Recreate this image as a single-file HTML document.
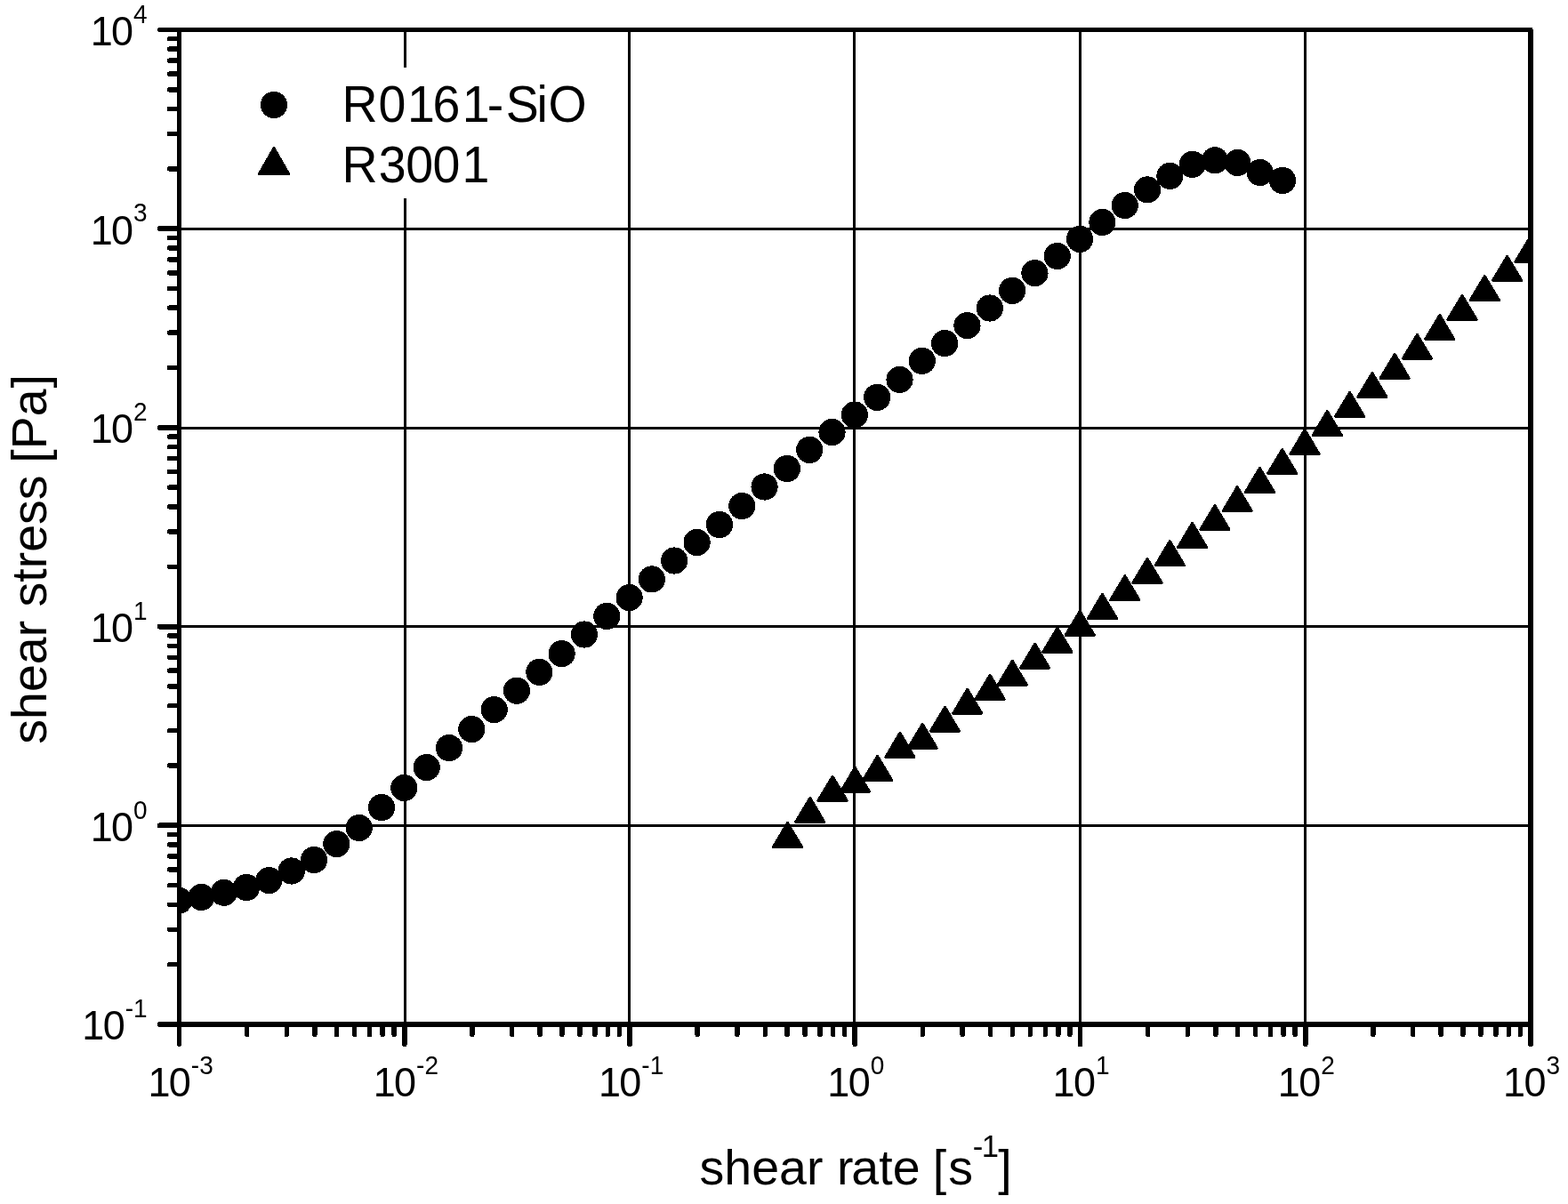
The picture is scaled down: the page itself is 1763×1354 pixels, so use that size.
<!DOCTYPE html>
<html lang="en"><head><meta charset="utf-8"><title>shear stress vs shear rate</title>
<style>html,body{margin:0;padding:0;background:#fff}body{width:1763px;height:1354px;overflow:hidden}svg{display:block}text{font-family:"Liberation Sans",Arial,Helvetica,sans-serif;fill:#000}</style>
</head><body>
<svg width="1763" height="1354" viewBox="0 0 1763 1354">
<rect x="0" y="0" width="1763" height="1354" fill="#fff"/>
<g fill="#000" shape-rendering="crispEdges">
<rect x="454" y="33" width="3" height="1119"/>
<rect x="706" y="33" width="3" height="1119"/>
<rect x="959" y="33" width="3" height="1119"/>
<rect x="1213" y="33" width="3" height="1119"/>
<rect x="1466" y="33" width="3" height="1119"/>
<rect x="201" y="256" width="1520" height="3"/>
<rect x="201" y="480" width="1520" height="3"/>
<rect x="201" y="703" width="1520" height="3"/>
<rect x="201" y="927" width="1520" height="3"/>
</g>
<rect x="270" y="76" width="410" height="147" fill="#fff"/>
<defs><clipPath id="plotclip"><rect x="201.5" y="33.5" width="1519.5" height="1118.5"/></clipPath></defs>
<g clip-path="url(#plotclip)" fill="#000" shape-rendering="crispEdges">
<circle cx="201.10" cy="1012.80" r="15.1"/>
<circle cx="226.42" cy="1009.00" r="15.1"/>
<circle cx="251.75" cy="1003.90" r="15.1"/>
<circle cx="277.08" cy="998.00" r="15.1"/>
<circle cx="302.40" cy="990.10" r="15.1"/>
<circle cx="327.73" cy="979.50" r="15.1"/>
<circle cx="353.05" cy="967.00" r="15.1"/>
<circle cx="378.38" cy="949.10" r="15.1"/>
<circle cx="403.70" cy="931.00" r="15.1"/>
<circle cx="429.02" cy="908.05" r="15.1"/>
<circle cx="454.35" cy="886.00" r="15.1"/>
<circle cx="479.68" cy="863.06" r="15.1"/>
<circle cx="505.00" cy="841.10" r="15.1"/>
<circle cx="530.32" cy="820.06" r="15.1"/>
<circle cx="555.65" cy="798.10" r="15.1"/>
<circle cx="580.98" cy="776.70" r="15.1"/>
<circle cx="606.30" cy="755.90" r="15.1"/>
<circle cx="631.62" cy="735.10" r="15.1"/>
<circle cx="656.95" cy="713.50" r="15.1"/>
<circle cx="682.27" cy="692.95" r="15.1"/>
<circle cx="707.60" cy="672.05" r="15.1"/>
<circle cx="732.92" cy="651.40" r="15.1"/>
<circle cx="758.25" cy="630.50" r="15.1"/>
<circle cx="783.58" cy="610.00" r="15.1"/>
<circle cx="808.90" cy="590.00" r="15.1"/>
<circle cx="834.23" cy="569.06" r="15.1"/>
<circle cx="859.55" cy="547.50" r="15.1"/>
<circle cx="884.88" cy="527.00" r="15.1"/>
<circle cx="910.20" cy="505.90" r="15.1"/>
<circle cx="935.52" cy="486.00" r="15.1"/>
<circle cx="960.85" cy="466.50" r="15.1"/>
<circle cx="986.17" cy="446.90" r="15.1"/>
<circle cx="1011.50" cy="426.90" r="15.1"/>
<circle cx="1036.82" cy="405.90" r="15.1"/>
<circle cx="1062.15" cy="386.07" r="15.1"/>
<circle cx="1087.47" cy="366.10" r="15.1"/>
<circle cx="1112.80" cy="346.50" r="15.1"/>
<circle cx="1138.12" cy="326.90" r="15.1"/>
<circle cx="1163.45" cy="307.10" r="15.1"/>
<circle cx="1188.77" cy="288.00" r="15.1"/>
<circle cx="1214.10" cy="268.90" r="15.1"/>
<circle cx="1239.42" cy="250.00" r="15.1"/>
<circle cx="1264.75" cy="231.00" r="15.1"/>
<circle cx="1290.07" cy="213.40" r="15.1"/>
<circle cx="1315.40" cy="197.90" r="15.1"/>
<circle cx="1340.72" cy="184.90" r="15.1"/>
<circle cx="1366.05" cy="180.30" r="15.1"/>
<circle cx="1391.37" cy="183.00" r="15.1"/>
<circle cx="1416.70" cy="194.00" r="15.1"/>
<circle cx="1442.02" cy="203.00" r="15.1"/>
<path d="M869.40 952.40L901.60 952.40L885.50 925.40Z" stroke="#000" stroke-width="3.0" stroke-linejoin="round"/>
<path d="M894.68 924.40L926.88 924.40L910.78 897.40Z" stroke="#000" stroke-width="3.0" stroke-linejoin="round"/>
<path d="M919.97 900.20L952.17 900.20L936.07 873.20Z" stroke="#000" stroke-width="3.0" stroke-linejoin="round"/>
<path d="M945.25 890.30L977.45 890.30L961.35 863.30Z" stroke="#000" stroke-width="3.0" stroke-linejoin="round"/>
<path d="M970.54 877.30L1002.74 877.30L986.64 850.30Z" stroke="#000" stroke-width="3.0" stroke-linejoin="round"/>
<path d="M995.82 851.30L1028.02 851.30L1011.92 824.30Z" stroke="#000" stroke-width="3.0" stroke-linejoin="round"/>
<path d="M1021.10 841.40L1053.30 841.40L1037.20 814.40Z" stroke="#000" stroke-width="3.0" stroke-linejoin="round"/>
<path d="M1046.39 822.30L1078.59 822.30L1062.49 795.30Z" stroke="#000" stroke-width="3.0" stroke-linejoin="round"/>
<path d="M1071.67 802.20L1103.87 802.20L1087.77 775.20Z" stroke="#000" stroke-width="3.0" stroke-linejoin="round"/>
<path d="M1096.96 786.20L1129.16 786.20L1113.06 759.20Z" stroke="#000" stroke-width="3.0" stroke-linejoin="round"/>
<path d="M1122.24 770.20L1154.44 770.20L1138.34 743.20Z" stroke="#000" stroke-width="3.0" stroke-linejoin="round"/>
<path d="M1147.52 751.20L1179.72 751.20L1163.62 724.20Z" stroke="#000" stroke-width="3.0" stroke-linejoin="round"/>
<path d="M1172.81 733.20L1205.01 733.20L1188.91 706.20Z" stroke="#000" stroke-width="3.0" stroke-linejoin="round"/>
<path d="M1198.09 714.35L1230.29 714.35L1214.19 687.35Z" stroke="#000" stroke-width="3.0" stroke-linejoin="round"/>
<path d="M1223.38 695.40L1255.58 695.40L1239.48 668.40Z" stroke="#000" stroke-width="3.0" stroke-linejoin="round"/>
<path d="M1248.66 674.70L1280.86 674.70L1264.76 647.70Z" stroke="#000" stroke-width="3.0" stroke-linejoin="round"/>
<path d="M1273.94 655.40L1306.14 655.40L1290.04 628.40Z" stroke="#000" stroke-width="3.0" stroke-linejoin="round"/>
<path d="M1299.23 635.60L1331.43 635.60L1315.33 608.60Z" stroke="#000" stroke-width="3.0" stroke-linejoin="round"/>
<path d="M1324.51 615.50L1356.71 615.50L1340.61 588.50Z" stroke="#000" stroke-width="3.0" stroke-linejoin="round"/>
<path d="M1349.80 595.50L1382.00 595.50L1365.90 568.50Z" stroke="#000" stroke-width="3.0" stroke-linejoin="round"/>
<path d="M1375.08 574.60L1407.28 574.60L1391.18 547.60Z" stroke="#000" stroke-width="3.0" stroke-linejoin="round"/>
<path d="M1400.36 553.40L1432.56 553.40L1416.46 526.40Z" stroke="#000" stroke-width="3.0" stroke-linejoin="round"/>
<path d="M1425.65 532.50L1457.85 532.50L1441.75 505.50Z" stroke="#000" stroke-width="3.0" stroke-linejoin="round"/>
<path d="M1450.93 510.50L1483.13 510.50L1467.03 483.50Z" stroke="#000" stroke-width="3.0" stroke-linejoin="round"/>
<path d="M1476.22 489.40L1508.42 489.40L1492.32 462.40Z" stroke="#000" stroke-width="3.0" stroke-linejoin="round"/>
<path d="M1501.50 468.40L1533.70 468.40L1517.60 441.40Z" stroke="#000" stroke-width="3.0" stroke-linejoin="round"/>
<path d="M1526.78 446.50L1558.98 446.50L1542.88 419.50Z" stroke="#000" stroke-width="3.0" stroke-linejoin="round"/>
<path d="M1552.07 425.40L1584.27 425.40L1568.17 398.40Z" stroke="#000" stroke-width="3.0" stroke-linejoin="round"/>
<path d="M1577.35 403.30L1609.55 403.30L1593.45 376.30Z" stroke="#000" stroke-width="3.0" stroke-linejoin="round"/>
<path d="M1602.64 381.40L1634.84 381.40L1618.74 354.40Z" stroke="#000" stroke-width="3.0" stroke-linejoin="round"/>
<path d="M1627.92 359.40L1660.12 359.40L1644.02 332.40Z" stroke="#000" stroke-width="3.0" stroke-linejoin="round"/>
<path d="M1653.20 337.50L1685.40 337.50L1669.30 310.50Z" stroke="#000" stroke-width="3.0" stroke-linejoin="round"/>
<path d="M1678.49 315.40L1710.69 315.40L1694.59 288.40Z" stroke="#000" stroke-width="3.0" stroke-linejoin="round"/>
<path d="M1703.77 294.60L1735.97 294.60L1719.87 267.60Z" stroke="#000" stroke-width="3.0" stroke-linejoin="round"/>
</g>
<g fill="#000" shape-rendering="crispEdges">
<rect x="199" y="31" width="5" height="1124"/>
<rect x="199" y="31" width="1524" height="5"/>
<rect x="199" y="1149" width="1525" height="6"/>
<rect x="1718" y="33" width="6" height="1122"/>
</g>
<g fill="#000" shape-rendering="crispEdges">
<rect x="177" y="1149.10" width="25" height="5.8" rx="2.2"/>
<rect x="188" y="1081.91" width="14" height="5.5" rx="2.2"/>
<rect x="188" y="1042.52" width="14" height="5.5" rx="2.2"/>
<rect x="188" y="1014.57" width="14" height="5.5" rx="2.2"/>
<rect x="188" y="992.89" width="14" height="5.5" rx="2.2"/>
<rect x="188" y="975.18" width="14" height="5.5" rx="2.2"/>
<rect x="188" y="960.20" width="14" height="5.5" rx="2.2"/>
<rect x="188" y="947.23" width="14" height="5.5" rx="2.2"/>
<rect x="188" y="935.79" width="14" height="5.5" rx="2.2"/>
<rect x="177" y="925.40" width="25" height="5.8" rx="2.2"/>
<rect x="188" y="858.21" width="14" height="5.5" rx="2.2"/>
<rect x="188" y="818.82" width="14" height="5.5" rx="2.2"/>
<rect x="188" y="790.87" width="14" height="5.5" rx="2.2"/>
<rect x="188" y="769.19" width="14" height="5.5" rx="2.2"/>
<rect x="188" y="751.48" width="14" height="5.5" rx="2.2"/>
<rect x="188" y="736.50" width="14" height="5.5" rx="2.2"/>
<rect x="188" y="723.53" width="14" height="5.5" rx="2.2"/>
<rect x="188" y="712.09" width="14" height="5.5" rx="2.2"/>
<rect x="177" y="701.70" width="25" height="5.8" rx="2.2"/>
<rect x="188" y="634.51" width="14" height="5.5" rx="2.2"/>
<rect x="188" y="595.12" width="14" height="5.5" rx="2.2"/>
<rect x="188" y="567.17" width="14" height="5.5" rx="2.2"/>
<rect x="188" y="545.49" width="14" height="5.5" rx="2.2"/>
<rect x="188" y="527.78" width="14" height="5.5" rx="2.2"/>
<rect x="188" y="512.80" width="14" height="5.5" rx="2.2"/>
<rect x="188" y="499.83" width="14" height="5.5" rx="2.2"/>
<rect x="188" y="488.39" width="14" height="5.5" rx="2.2"/>
<rect x="177" y="478.00" width="25" height="5.8" rx="2.2"/>
<rect x="188" y="410.81" width="14" height="5.5" rx="2.2"/>
<rect x="188" y="371.42" width="14" height="5.5" rx="2.2"/>
<rect x="188" y="343.47" width="14" height="5.5" rx="2.2"/>
<rect x="188" y="321.79" width="14" height="5.5" rx="2.2"/>
<rect x="188" y="304.08" width="14" height="5.5" rx="2.2"/>
<rect x="188" y="289.10" width="14" height="5.5" rx="2.2"/>
<rect x="188" y="276.13" width="14" height="5.5" rx="2.2"/>
<rect x="188" y="264.69" width="14" height="5.5" rx="2.2"/>
<rect x="177" y="254.30" width="25" height="5.8" rx="2.2"/>
<rect x="188" y="187.11" width="14" height="5.5" rx="2.2"/>
<rect x="188" y="147.72" width="14" height="5.5" rx="2.2"/>
<rect x="188" y="119.77" width="14" height="5.5" rx="2.2"/>
<rect x="188" y="98.09" width="14" height="5.5" rx="2.2"/>
<rect x="188" y="80.38" width="14" height="5.5" rx="2.2"/>
<rect x="188" y="65.40" width="14" height="5.5" rx="2.2"/>
<rect x="188" y="52.43" width="14" height="5.5" rx="2.2"/>
<rect x="188" y="40.99" width="14" height="5.5" rx="2.2"/>
<rect x="177" y="31" width="25" height="5" rx="2.2"/>
<rect x="199" y="1150" width="5" height="27" rx="2.2"/>
<rect x="274.99" y="1150" width="5.5" height="16" rx="2.2"/>
<rect x="319.58" y="1150" width="5.5" height="16" rx="2.2"/>
<rect x="351.22" y="1150" width="5.5" height="16" rx="2.2"/>
<rect x="375.76" y="1150" width="5.5" height="16" rx="2.2"/>
<rect x="395.82" y="1150" width="5.5" height="16" rx="2.2"/>
<rect x="412.77" y="1150" width="5.5" height="16" rx="2.2"/>
<rect x="427.46" y="1150" width="5.5" height="16" rx="2.2"/>
<rect x="440.41" y="1150" width="5.5" height="16" rx="2.2"/>
<rect x="451.85" y="1150" width="5.8" height="27" rx="2.2"/>
<rect x="528.24" y="1150" width="5.5" height="16" rx="2.2"/>
<rect x="572.83" y="1150" width="5.5" height="16" rx="2.2"/>
<rect x="604.47" y="1150" width="5.5" height="16" rx="2.2"/>
<rect x="629.01" y="1150" width="5.5" height="16" rx="2.2"/>
<rect x="649.07" y="1150" width="5.5" height="16" rx="2.2"/>
<rect x="666.02" y="1150" width="5.5" height="16" rx="2.2"/>
<rect x="680.71" y="1150" width="5.5" height="16" rx="2.2"/>
<rect x="693.66" y="1150" width="5.5" height="16" rx="2.2"/>
<rect x="705.10" y="1150" width="5.8" height="27" rx="2.2"/>
<rect x="781.49" y="1150" width="5.5" height="16" rx="2.2"/>
<rect x="826.08" y="1150" width="5.5" height="16" rx="2.2"/>
<rect x="857.72" y="1150" width="5.5" height="16" rx="2.2"/>
<rect x="882.26" y="1150" width="5.5" height="16" rx="2.2"/>
<rect x="902.32" y="1150" width="5.5" height="16" rx="2.2"/>
<rect x="919.27" y="1150" width="5.5" height="16" rx="2.2"/>
<rect x="933.96" y="1150" width="5.5" height="16" rx="2.2"/>
<rect x="946.91" y="1150" width="5.5" height="16" rx="2.2"/>
<rect x="958.35" y="1150" width="5.8" height="27" rx="2.2"/>
<rect x="1034.74" y="1150" width="5.5" height="16" rx="2.2"/>
<rect x="1079.33" y="1150" width="5.5" height="16" rx="2.2"/>
<rect x="1110.97" y="1150" width="5.5" height="16" rx="2.2"/>
<rect x="1135.51" y="1150" width="5.5" height="16" rx="2.2"/>
<rect x="1155.57" y="1150" width="5.5" height="16" rx="2.2"/>
<rect x="1172.52" y="1150" width="5.5" height="16" rx="2.2"/>
<rect x="1187.21" y="1150" width="5.5" height="16" rx="2.2"/>
<rect x="1200.16" y="1150" width="5.5" height="16" rx="2.2"/>
<rect x="1211.60" y="1150" width="5.8" height="27" rx="2.2"/>
<rect x="1287.99" y="1150" width="5.5" height="16" rx="2.2"/>
<rect x="1332.58" y="1150" width="5.5" height="16" rx="2.2"/>
<rect x="1364.22" y="1150" width="5.5" height="16" rx="2.2"/>
<rect x="1388.76" y="1150" width="5.5" height="16" rx="2.2"/>
<rect x="1408.82" y="1150" width="5.5" height="16" rx="2.2"/>
<rect x="1425.77" y="1150" width="5.5" height="16" rx="2.2"/>
<rect x="1440.46" y="1150" width="5.5" height="16" rx="2.2"/>
<rect x="1453.41" y="1150" width="5.5" height="16" rx="2.2"/>
<rect x="1464.85" y="1150" width="5.8" height="27" rx="2.2"/>
<rect x="1541.24" y="1150" width="5.5" height="16" rx="2.2"/>
<rect x="1585.83" y="1150" width="5.5" height="16" rx="2.2"/>
<rect x="1617.47" y="1150" width="5.5" height="16" rx="2.2"/>
<rect x="1642.01" y="1150" width="5.5" height="16" rx="2.2"/>
<rect x="1662.07" y="1150" width="5.5" height="16" rx="2.2"/>
<rect x="1679.02" y="1150" width="5.5" height="16" rx="2.2"/>
<rect x="1693.71" y="1150" width="5.5" height="16" rx="2.2"/>
<rect x="1706.66" y="1150" width="5.5" height="16" rx="2.2"/>
<rect x="1718.10" y="1150" width="5.8" height="27" rx="2.2"/>
</g>
<text transform="translate(164.82 1233.00) scale(1 1.0320)" font-size="45.00" x="1.60 25.03">10<tspan x="50.05" font-size="28.00" dy="-24.30">-3</tspan></text>
<text transform="translate(418.07 1233.00) scale(1 1.0320)" font-size="45.00" x="1.60 25.03">10<tspan x="50.05" font-size="28.00" dy="-24.30">-2</tspan></text>
<text transform="translate(671.32 1233.00) scale(1 1.0320)" font-size="45.00" x="1.60 25.03">10<tspan x="50.05" font-size="28.00" dy="-24.30">-1</tspan></text>
<text transform="translate(928.64 1233.00) scale(1 1.0320)" font-size="45.00" x="1.60 25.03">10<tspan x="50.05" font-size="28.00" dy="-24.30">0</tspan></text>
<text transform="translate(1181.89 1233.00) scale(1 1.0320)" font-size="45.00" x="1.60 25.03">10<tspan x="50.05" font-size="28.00" dy="-24.30">1</tspan></text>
<text transform="translate(1435.14 1233.00) scale(1 1.0320)" font-size="45.00" x="1.60 25.03">10<tspan x="50.05" font-size="28.00" dy="-24.30">2</tspan></text>
<text transform="translate(1688.39 1233.00) scale(1 1.0320)" font-size="45.00" x="1.60 25.03">10<tspan x="50.05" font-size="28.00" dy="-24.30">3</tspan></text>
<text transform="translate(90.75 1169.30) scale(1 1.0320)" font-size="45.00" x="1.60 25.03">10<tspan x="50.05" font-size="28.00" dy="-24.30">-1</tspan></text>
<text transform="translate(100.07 945.60) scale(1 1.0320)" font-size="45.00" x="1.60 25.03">10<tspan x="50.05" font-size="28.00" dy="-24.30">0</tspan></text>
<text transform="translate(100.07 721.90) scale(1 1.0320)" font-size="45.00" x="1.60 25.03">10<tspan x="50.05" font-size="28.00" dy="-24.30">1</tspan></text>
<text transform="translate(100.07 498.20) scale(1 1.0320)" font-size="45.00" x="1.60 25.03">10<tspan x="50.05" font-size="28.00" dy="-24.30">2</tspan></text>
<text transform="translate(100.07 274.50) scale(1 1.0320)" font-size="45.00" x="1.60 25.03">10<tspan x="50.05" font-size="28.00" dy="-24.30">3</tspan></text>
<text transform="translate(100.07 50.80) scale(1 1.0320)" font-size="45.00" x="1.60 25.03">10<tspan x="50.05" font-size="28.00" dy="-24.30">4</tspan></text>
<text x="786.6" y="1331.8" font-size="55.50" dx="0 0 0 0 0 0 0 -2 0 0 0 -1.1 1.95">shear rate [s<tspan font-size="34.60" dy="-31.00" dx="-0.35 -1.5">-1</tspan><tspan dy="31.00" dx="-0.6">]</tspan></text>
<text transform="translate(52 836.7) rotate(-90)" font-size="55.50" dx="0 0 0 0 0 0 0 0 0 0 0 0 0 -1.7 0 0 0.8">shear stress [Pa]</text>
<circle cx="308" cy="118" r="15.1" fill="#000" shape-rendering="crispEdges"/>
<path fill="#000" shape-rendering="crispEdges" d="M291.50 195.50L324.50 195.50L308.00 166.50Z" stroke="#000" stroke-width="3.0" stroke-linejoin="round"/>
<text transform="translate(384.3 136.7) scale(1 1.0350)" font-size="55.50" dx="0.3 0.9 1.6 -2.5 2.5 -2.8 2.5 -2.2 0.5">R0161-SiO</text>
<text transform="translate(384.3 204.7) scale(1 1.0350)" font-size="55.50" dx="0.3 1.1 -0.3 -0.6 2.0">R3001</text>
</svg>
</body></html>
